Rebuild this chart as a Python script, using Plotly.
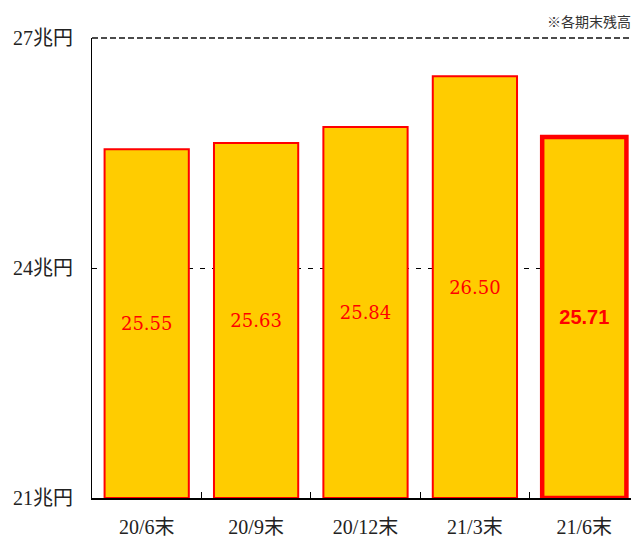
import plotly.graph_objects as go

categories = ["20/6末", "20/9末", "20/12末", "21/3末", "21/6末"]
values = [25.55, 25.63, 25.84, 26.50, 25.71]
labels = ["25.55", "25.63", "25.84", "26.50", "<b>25.71</b>"]
y_ticks = [21, 24, 27]
y_tick_text = ["21兆円", "24兆円", "27兆円"]

serif = "Liberation Serif, Times New Roman, Noto Sans CJK JP, serif"
label_serif = "DejaVu Serif, Liberation Serif, serif"
sans = "Liberation Sans, Arial, Noto Sans CJK JP, sans-serif"

text_fonts = [label_serif] * 4 + [sans]
text_sizes = [18, 18, 18, 18, 20]
line_widths = [2, 2, 2, 2, 4.5]

fig = go.Figure()
fig.add_trace(go.Bar(
    x=categories,
    y=[v - 21 for v in values],
    base=21,
    width=0.77,
    marker=dict(color="#FFCC00", line=dict(color="#FF0000", width=line_widths)),
    text=labels,
    textposition="inside",
    insidetextanchor="middle",
    textangle=0,
    textfont=dict(color="#FF0000", size=text_sizes, family=text_fonts),
    hoverinfo="skip",
))

# dashed frame line along the top of the plot area (the 27兆円 level)
fig.add_shape(type="line", xref="paper", yref="paper", x0=0, x1=1, y0=1, y1=1,
              line=dict(color="#111", width=1.5, dash="6px,3px"))

# page body has an 8px default margin; figure is sized to fill the rest of the window
fig.update_layout(
    width=631, height=537,
    margin=dict(l=84, r=0, t=30, b=47),
    paper_bgcolor="white", plot_bgcolor="white",
    showlegend=False,
    bargap=0.23,
    xaxis=dict(
        showline=True, linecolor="black", linewidth=1.5,
        ticks="inside", tickson="boundaries", ticklen=6, tickcolor="black",
        showgrid=False,
        tickfont=dict(family=serif, size=20, color="#222"),
        ticklabelstandoff=10,
    ),
    yaxis=dict(
        range=[21, 27],
        tickvals=y_ticks, ticktext=y_tick_text,
        showline=True, linecolor="black", linewidth=1,
        showgrid=True, gridcolor="black", griddash="5px,7px", gridwidth=1,
        zeroline=False,
        tickfont=dict(family=serif, size=20, color="#222"),
        ticklabelstandoff=14,
    ),
    annotations=[dict(
        text="※各期末残高", xref="paper", yref="paper", x=1, y=1,
        xanchor="right", yanchor="bottom", yshift=5, xshift=-6, showarrow=False,
        font=dict(family="Noto Sans CJK JP, sans-serif", size=14, color="#333"),
    )],
)

fig.write_html("out.html")
